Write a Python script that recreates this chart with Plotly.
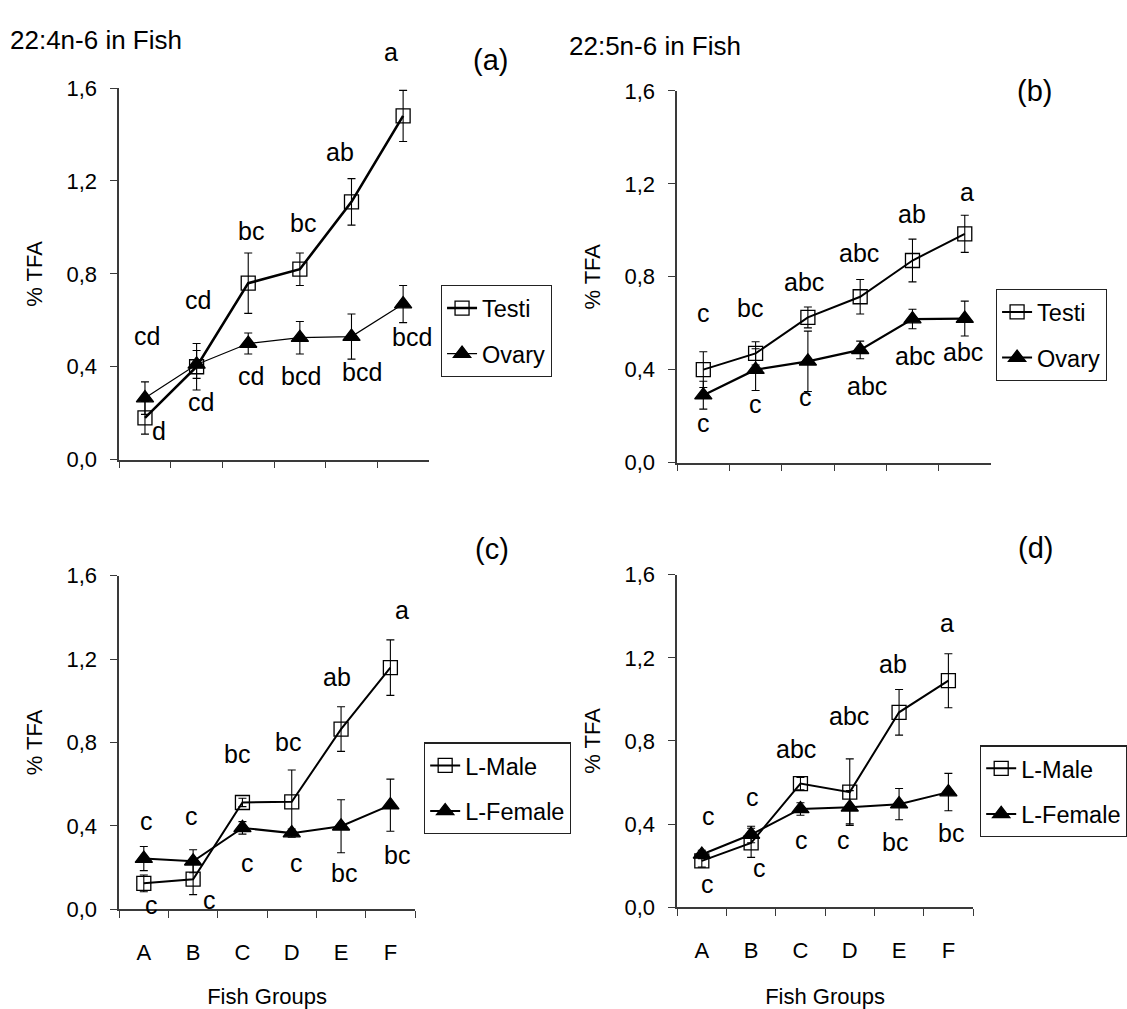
import plotly.graph_objects as go

# ---------------- data ----------------
groups = ["A", "B", "C", "D", "E", "F"]

a_testi = [0.18, 0.40, 0.76, 0.82, 1.11, 1.48]
a_testi_err = [0.07, 0.10, 0.13, 0.07, 0.10, 0.11]
a_ovary = [0.265, 0.41, 0.50, 0.525, 0.53, 0.67]
a_ovary_err = [0.07, 0.06, 0.045, 0.07, 0.097, 0.08]

b_testi = [0.40, 0.47, 0.625, 0.714, 0.87, 0.985]
b_testi_err = [0.077, 0.05, 0.045, 0.074, 0.092, 0.08]
b_ovary = [0.29, 0.40, 0.436, 0.485, 0.618, 0.62]
b_ovary_err = [0.06, 0.09, 0.13, 0.038, 0.042, 0.075]

c_male = [0.124, 0.144, 0.512, 0.515, 0.864, 1.159]
c_male_err = [0.04, 0.074, 0.02, 0.153, 0.107, 0.133]
c_female = [0.243, 0.23, 0.39, 0.365, 0.398, 0.499]
c_female_err = [0.058, 0.055, 0.03, 0.02, 0.127, 0.125]

d_male = [0.223, 0.31, 0.595, 0.554, 0.938, 1.09]
d_male_err = [0.03, 0.07, 0.03, 0.16, 0.11, 0.13]
d_female = [0.254, 0.35, 0.473, 0.481, 0.496, 0.554]
d_female_err = [0.02, 0.04, 0.03, 0.08, 0.075, 0.09]

# significance letters (text) and their placements (category index, %TFA)
a_letters = ["cd", "d", "cd", "cd", "bc", "cd", "bc", "bcd", "ab", "bcd", "a", "bcd"]
a_letter_pos = [(0.03, 0.534), (0.27, 0.123), (1.02, 0.687), (1.09, 0.248),
                (2.06, 0.984), (2.05, 0.36), (3.07, 1.017), (3.03, 0.362),
                (3.77, 1.324), (4.21, 0.376), (4.76, 1.755), (5.17, 0.527)]
b_letters = ["c", "c", "bc", "c", "abc", "c", "abc", "abc", "ab", "abc", "a", "abc"]
b_letter_pos = [(0.0, 0.646), (0.0, 0.170), (0.89, 0.667), (1.0, 0.254),
                (1.92, 0.776), (1.96, 0.282), (2.97, 0.901), (3.13, 0.331),
                (4.0, 1.072), (4.04, 0.46), (5.04, 1.165), (4.97, 0.478)]
c_letters = ["c", "c", "c", "c", "bc", "c", "bc", "c", "ab", "bc", "a", "bc"]
c_letter_pos = [(0.05, 0.421), (0.15, 0.022), (0.97, 0.449), (1.33, 0.045),
                (1.89, 0.744), (2.1, 0.222), (2.93, 0.80), (3.1, 0.222),
                (3.92, 1.112), (4.05, 0.175), (5.24, 1.436), (5.14, 0.261)]
d_letters = ["c", "c", "c", "c", "abc", "c", "abc", "c", "ab", "bc", "a", "bc"]
d_letter_pos = [(0.14, 0.437), (0.12, 0.114), (1.03, 0.532), (1.16, 0.187),
                (1.92, 0.76), (2.03, 0.325), (2.99, 0.921), (2.87, 0.325),
                (3.87, 1.172), (3.92, 0.312), (4.97, 1.367), (5.05, 0.359)]

titles = ["22:4n-6 in Fish", "22:5n-6 in Fish"]
panel_tags = ["(a)", "(b)", "(c)", "(d)"]
y_title = "% TFA"
x_title = "Fish Groups"
y_ticks = [0.0, 0.4, 0.8, 1.2, 1.6]
y_max = 1.6

# ---------------- figure ----------------
W, H = 1127, 1009
FONT = "Liberation Sans, Arial, sans-serif"
fig = go.Figure()


def px_x(p):
    return p / W


def px_y(p):
    return 1 - p / H


# plot areas in pixels (left, right, y of 0.0, y of 1.6)
panels = {
    "a": dict(xa="x", ya="y", x0=120, x1=432, y0=459, y1=78),
    "b": dict(xa="x2", ya="y2", x0=682, x1=998, y0=462, y1=81),
    "c": dict(xa="x3", ya="y3", x0=120, x1=418, y0=920, y1=578),
    "d": dict(xa="x4", ya="y4", x0=682, x1=980, y0=918, y1=577),
}

series = {
    "a": [("Testi", a_testi, a_testi_err, "square-open", 2.6, "legend"),
          ("Ovary", a_ovary, a_ovary_err, "triangle-up", 1.2, "legend")],
    "b": [("Testi", b_testi, b_testi_err, "square-open", 2.0, "legend2"),
          ("Ovary", b_ovary, b_ovary_err, "triangle-up", 2.2, "legend2")],
    "c": [("L-Male", c_male, c_male_err, "square-open", 2.0, "legend3"),
          ("L-Female", c_female, c_female_err, "triangle-up", 2.0, "legend3")],
    "d": [("L-Male", d_male, d_male_err, "square-open", 2.0, "legend4"),
          ("L-Female", d_female, d_female_err, "triangle-up", 2.0, "legend4")],
}

for key, p in panels.items():
    for i, (name, vals, errs, sym, lw, leg) in enumerate(series[key]):
        fig.add_trace(go.Scatter(
            x=groups, y=vals, name=name, mode="lines+markers",
            xaxis=p["xa"], yaxis=p["ya"], legend=leg,
            legendgroup=key + name,
            line=dict(color="black", width=lw),
            marker=dict(symbol=sym, size=14 if "square" in sym else 15,
                        color="black", line=dict(color="black", width=1.3)),
            error_y=dict(type="data", array=errs, visible=True,
                         color="black", thickness=1.1, width=4),
            cliponaxis=False,
        ))

axis_common = dict(showgrid=False, zeroline=False, showline=True,
                   linecolor="#3a3a3a", linewidth=1.5, ticks="outside",
                   ticklen=7, tickcolor="#3a3a3a", tickwidth=1.3,
                   tickfont=dict(family=FONT, size=22, color="black"))

layout = dict(
    width=W, height=H, margin=dict(l=0, r=0, t=0, b=0),
    paper_bgcolor="white", plot_bgcolor="white",
    separators=",.",
    font=dict(family=FONT, color="black"),
    showlegend=True,
)

names = {"a": ("xaxis", "yaxis"), "b": ("xaxis2", "yaxis2"),
         "c": ("xaxis3", "yaxis3"), "d": ("xaxis4", "yaxis4")}

for key, p in panels.items():
    xn, yn = names[key]
    bottom = key in ("c", "d")
    layout[xn] = dict(axis_common, type="category", categoryorder="array",
                      categoryarray=groups, range=[-0.5, 5.5],
                      tickson="boundaries", domain=[px_x(p["x0"]), px_x(p["x1"])],
                      anchor=p["ya"], showticklabels=bottom,
                      ticklabelstandoff=23,
                      title=dict(text=x_title if bottom else "",
                                 font=dict(family=FONT, size=22),
                                 standoff=24 if key == "c" else 28))
    layout[yn] = dict(axis_common, range=[0, y_max], tickvals=y_ticks,
                      tickformat=".1f", domain=[px_y(p["y0"]), px_y(p["y1"])],
                      anchor=p["xa"], ticklabelstandoff=9,
                      title=dict(text=y_title, font=dict(family=FONT, size=22),
                                 standoff=18))

legend_common = dict(bordercolor="#222", borderwidth=1.2, bgcolor="white",
                     font=dict(family=FONT, size=23.5, color="black"),
                     xref="paper", yref="paper", xanchor="left", yanchor="top",
                     tracegroupgap=12, itemwidth=30)
layout["legend"] = dict(legend_common, x=px_x(444), y=px_y(280))
layout["legend2"] = dict(legend_common, x=px_x(1003), y=px_y(284))
layout["legend3"] = dict(legend_common, x=px_x(427), y=px_y(749))
layout["legend4"] = dict(legend_common, x=px_x(987), y=px_y(752))

fig.update_layout(**layout)

# significance letters (values above the axis top are placed on the y-domain scale)
for key, letters, pos in [("a", a_letters, a_letter_pos), ("b", b_letters, b_letter_pos),
                          ("c", c_letters, c_letter_pos), ("d", d_letters, d_letter_pos)]:
    p = panels[key]
    for t, (xx, yy) in zip(letters, pos):
        if yy <= y_max:
            yref, yv = p["ya"], yy
        else:
            yref, yv = p["ya"] + " domain", yy / y_max
        fig.add_annotation(x=xx, y=yv, xref=p["xa"], yref=yref, text=t,
                           showarrow=False, xanchor="center", yanchor="middle",
                           font=dict(family=FONT, size=25, color="black"))

# panel tags, placed relative to each plot area (domain fractions)
tag_pos = {"a": (1.20, 1.075), "b": (1.14, 1.0), "c": (1.26, 1.08), "d": (1.21, 1.08)}
for key, tag in zip(["a", "b", "c", "d"], panel_tags):
    p = panels[key]
    xx, yy = tag_pos[key]
    fig.add_annotation(x=xx, y=yy, xref=p["xa"] + " domain", yref=p["ya"] + " domain",
                       text=tag, showarrow=False, xanchor="center", yanchor="middle",
                       font=dict(family=FONT, size=29, color="black"))

# figure titles
fig.add_annotation(x=px_x(8), y=px_y(29), xref="paper", yref="paper", text=titles[0],
                   showarrow=False, xanchor="left", yanchor="middle",
                   font=dict(family=FONT, size=26, color="black"))
fig.add_annotation(x=px_x(571), y=px_y(35), xref="paper", yref="paper", text=titles[1],
                   showarrow=False, xanchor="left", yanchor="middle",
                   font=dict(family=FONT, size=26, color="black"))

fig.write_html("out.html")
